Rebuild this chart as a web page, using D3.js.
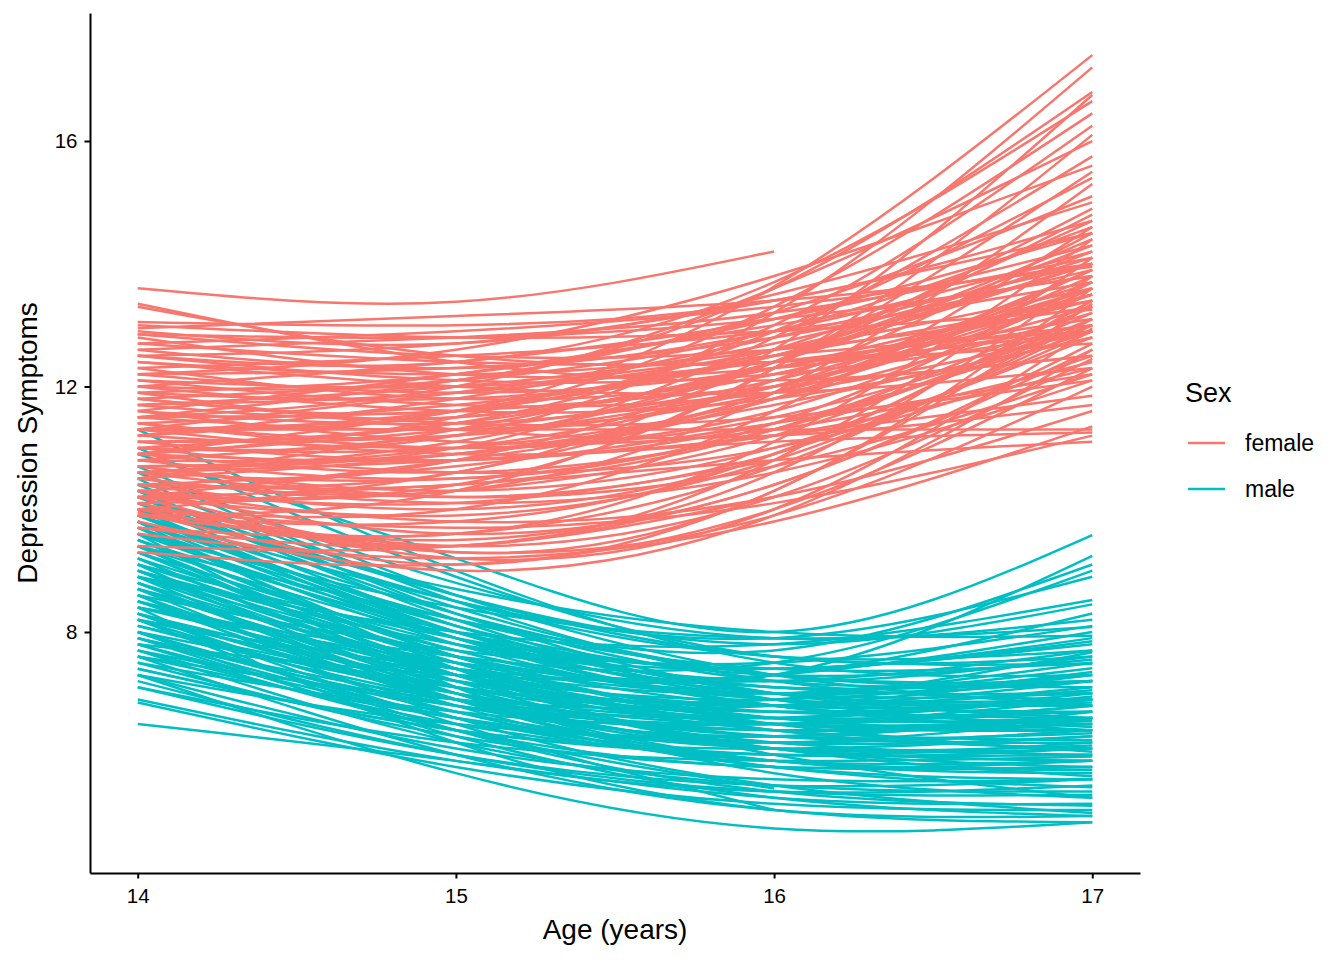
<!DOCTYPE html>
<html>
<head>
<meta charset="utf-8">
<script src="https://cdn.jsdelivr.net/npm/d3@7"></script>
<style>
  body { margin: 0; background: #fff; }
  text { font-family: "Liberation Sans", Arial, sans-serif; }
</style>
</head>
<body>
<div id="chart"></div>
<script>
var ages = [14, 15, 16, 17];

// Depression symptom trajectories, one row per person (values at ages 14-17)
var femaleLines = [
  [11.3, 11.6, 13.63, 17.4], [11.0, 11.2, 13.2, 17.2], [12.0, 12.1, 13.6, 16.8],
  [10.4, 10.6, 12.6, 16.75], [12.5, 12.4, 13.7, 16.65], [10.9, 11.5, 13.3, 16.45],
  [11.8, 11.6, 13.0, 16.25], [10.2, 10.4, 12.3, 16.1], [11.5, 12.0, 13.6, 16.0],
  [10.7, 11.0, 12.8, 15.75], [12.2, 12.6, 13.8, 15.6], [9.9, 10.3, 12.3, 15.5],
  [11.1, 11.4, 12.9, 15.4], [10.5, 10.3, 11.9, 15.3], [12.9, 12.7, 13.5, 15.0],
  [10.3, 10.8, 12.4, 14.9], [11.4, 11.2, 12.4, 14.8], [13.05, 13.0, 13.4, 14.7],
  [10.0, 10.0, 11.6, 14.6], [11.9, 12.2, 13.1, 14.5], [9.9, 9.6, 11.1, 14.4],
  [10.6, 11.1, 12.4, 14.3], [12.6, 12.3, 12.9, 14.2], [10.1, 9.4, 10.8, 14.1],
  [11.2, 11.8, 12.8, 14.0], [12.95, 13.15, 13.4, 13.95], [10.8, 10.9, 11.9, 13.9],
  [11.6, 12.2, 13.0, 13.8], [10.3, 9.3, 10.3, 13.6], [12.3, 11.8, 12.2, 13.7],
  [10.0, 10.6, 11.9, 13.6], [11.7, 11.5, 12.3, 13.5], [10.9, 11.6, 12.5, 13.4],
  [9.95, 9.1, 10.3, 13.35], [12.85, 12.5, 12.6, 13.3], [11.0, 11.0, 11.8, 13.2],
  [10.5, 11.3, 12.3, 13.1], [12.1, 12.0, 12.4, 13.0], [10.2, 9.2, 10.0, 12.95],
  [11.3, 11.9, 12.5, 12.9], [10.7, 10.3, 11.0, 12.8], [12.7, 12.4, 12.4, 12.7],
  [9.8, 9.0, 9.9, 12.6], [11.5, 11.6, 12.0, 12.5], [10.1, 9.4, 10.2, 12.45],
  [12.4, 12.0, 11.9, 12.3], [10.4, 10.7, 11.4, 12.2], [11.8, 11.4, 11.5, 12.1],
  [10.0, 9.3, 9.9, 12.0], [10.9, 10.8, 11.2, 11.85], [11.9, 11.3, 11.2, 11.7],
  [10.3, 9.8, 10.2, 11.6], [9.6, 9.2, 9.8, 11.35], [11.3, 11.3, 11.3, 11.3],
  [10.6, 10.8, 11.1, 11.25], [10.0, 9.7, 10.1, 11.2], [10.2, 10.4, 10.8, 11.1],
  [13.35, 12.4, 12.1, 12.5], [13.3, 12.5, 12.4, 12.9], [13.0, 12.8, 12.9, 13.25],
  [12.85, 12.8, 13.1, 13.8], [12.7, 12.9, 13.3, 14.0], [12.5, 12.7, 13.4, 14.5],
  [12.2, 11.9, 12.3, 13.4], [12.0, 12.4, 13.1, 14.3], [11.6, 11.4, 12.0, 13.3],
  [11.4, 11.7, 12.5, 14.0], [11.1, 10.8, 11.4, 12.9], [10.8, 11.2, 12.0, 13.5],
  [10.6, 10.5, 11.3, 13.0], [10.4, 10.0, 10.9, 13.4], [10.2, 10.8, 11.8, 13.9],
  [9.9, 9.5, 10.6, 13.8], [9.7, 9.6, 10.7, 13.1], [9.4, 9.4, 10.4, 12.6],
  [9.3, 9.1, 10.0, 12.3], [11.0, 10.6, 11.0, 12.5], [11.7, 12.0, 12.7, 14.1],
  [10.7, 10.2, 10.7, 12.2], [12.3, 12.5, 12.9, 13.7], [11.2, 11.0, 11.6, 13.6],
  [10.5, 10.9, 11.7, 12.8], [12.8, 12.2, 12.3, 13.0], [13.6, 13.38, 14.2, null],
  [10.3, 10.1, 10.8, null], [9.7, 9.4, 10.2, null],
  [11.5, 11.3, 11.9, 13.5], [10.9, 10.6, 11.3, 13.1], [11.3, 11.5, 12.2, 13.6],
  [10.6, 10.2, 10.9, 12.9], [11.8, 12.1, 12.9, 14.6], [12.1, 11.7, 11.9, 12.9],
  [10.4, 10.4, 11.3, 13.3], [11.0, 11.4, 12.4, 14.2], [12.4, 12.2, 12.6, 13.6],
  [10.8, 10.5, 11.4, 13.7], [11.6, 11.1, 11.3, 12.4], [10.1, 10.3, 11.2, 13.2],
  [11.9, 11.8, 12.5, 14.4], [12.6, 12.8, 13.2, 14.1], [10.5, 10.1, 10.6, 12.1],
  [11.2, 11.6, 12.6, 14.7], [11.4, 11.0, 11.5, 13.0], [10.7, 10.9, 11.8, 13.8],
  [12.2, 12.3, 12.8, 13.9], [10.9, 11.3, 12.1, 13.6], [11.7, 11.9, 12.6, 14.0],
  [10.3, 9.6, 10.4, 12.7], [9.9, 9.8, 10.9, 13.4], [11.1, 11.2, 12.0, 13.9],
  [12.0, 11.6, 11.8, 12.8], [10.6, 11.0, 12.1, 14.5], [11.5, 12.1, 13.2, 15.1],
  [10.2, 9.9, 10.8, 13.0], [12.5, 12.1, 12.2, 12.9], [11.3, 10.9, 11.2, 12.3]
];

var maleLines = [
  [10.9, 9.2, 8.0, 9.58], [9.0, 7.6, 7.3, 9.24], [9.4, 8.2, 7.7, 9.1],
  [8.4, 7.6, 7.5, 9.0], [9.9, 8.5, 7.9, 8.9], [8.9, 8.0, 7.8, 8.52],
  [10.2, 8.6, 7.8, 8.45], [8.2, 7.4, 7.3, 8.3], [9.6, 8.4, 7.9, 8.08],
  [7.8, 7.3, 7.3, 8.0], [10.0, 8.7, 8.0, 7.94], [9.1, 7.9, 7.4, 7.85],
  [8.0, 7.1, 6.9, 7.67], [9.7, 8.1, 7.3, 7.55], [10.4, 8.6, 7.6, 7.48],
  [8.7, 7.5, 7.0, 7.41], [7.6, 6.9, 6.8, 7.3], [9.3, 7.8, 7.1, 7.2],
  [8.3, 7.2, 6.8, 7.05], [9.9, 8.0, 7.1, 7.0], [8.1, 7.0, 6.6, 6.95],
  [7.1, 6.0, 5.5, 5.6], [9.5, 7.7, 6.9, 6.8], [8.5, 7.1, 6.6, 6.7],
  [7.9, 6.8, 6.4, 6.6], [9.0, 7.3, 6.6, 6.55], [10.1, 8.1, 6.9, 6.45],
  [8.6, 7.0, 6.3, 6.35], [7.4, 6.4, 6.1, 6.3], [9.2, 7.3, 6.4, 6.24],
  [8.0, 6.7, 6.1, 6.15], [9.7, 7.6, 6.5, 6.05], [7.1, 6.2, 5.9, 5.97],
  [8.8, 7.0, 6.1, 5.9], [8.3, 6.7, 5.9, 5.75], [9.4, 7.3, 6.1, 5.65],
  [7.3, 6.1, 5.6, 5.6], [8.9, 6.9, 5.8, 5.47], [7.7, 6.2, 5.5, 5.4],
  [9.8, 7.4, 6.0, 5.3], [8.2, 6.4, 5.4, 5.17], [6.85, 5.8, 5.2, 5.1],
  [8.6, 6.6, 5.5, 5.05], [7.3, 5.7, 4.8, 4.9], [6.5, 5.9, 5.3, 5.2],
  [11.3, 9.0, 7.5, 7.3], [11.0, 8.9, 7.6, 7.6], [10.6, 8.5, 7.2, 6.9],
  [10.5, 8.3, 7.0, 6.6], [9.6, 7.9, 7.0, 7.0], [9.2, 7.7, 6.9, 6.85],
  [8.8, 7.4, 6.8, 7.1], [8.4, 7.3, 6.9, 7.35], [9.9, 8.3, 7.3, 7.2],
  [7.5, 6.7, 6.5, 6.9], [8.1, 6.9, 6.4, 6.5], [9.5, 7.6, 6.6, 6.4],
  [8.7, 7.2, 6.5, 6.6], [7.9, 6.6, 6.0, 6.1], [9.0, 7.1, 6.2, 6.0],
  [9.8, 8.2, 7.4, 7.5], [10.3, 8.4, 7.3, 7.1], [8.5, 6.9, 6.2, 6.3],
  [7.7, 6.5, 6.0, 6.2], [9.3, 7.5, 6.7, 6.7], [8.9, 7.6, 7.0, 7.2],
  [7.8, 6.6, 6.2, 6.6], [10.0, 7.9, 6.8, 6.6], [8.2, 6.8, 6.3, 6.7],
  [9.1, 7.0, 5.9, 5.7], [7.2, 6.0, 5.4, 5.35], [8.0, 6.3, 5.3, 5.0],
  [9.6, 7.1, 5.7, 5.3], [8.4, 6.2, 5.1, 4.9], [7.6, 6.0, 5.1, 5.0],
  [9.4, 7.9, 7.2, 7.6], [8.6, 7.7, 7.4, 7.8], [10.1, 8.5, 7.6, 7.7],
  [9.0, 7.8, 7.5, 8.1], [10.6, 8.8, 7.9, 8.2], [6.9, 5.9, 5.4, 5.5],
  [8.3, 7.0, 6.5, 6.8], [9.7, 7.8, 6.8, 6.5], [8.7, 6.8, 5.8, 5.6],
  [7.4, 6.4, 6.0, 6.0], [7.9, 6.4, 5.45, null], [8.3, 6.5, 5.1, null],
  [9.1, 7.6, 6.8, 6.9], [8.5, 7.4, 7.0, 7.5], [9.8, 7.9, 6.8, 6.4],
  [7.6, 6.6, 6.2, 6.4], [8.8, 7.1, 6.3, 6.2], [10.3, 8.2, 7.0, 6.9],
  [8.1, 7.1, 6.7, 6.9], [9.4, 7.5, 6.4, 6.1], [7.9, 6.9, 6.6, 7.0],
  [9.0, 7.4, 6.6, 6.6], [8.3, 6.9, 6.1, 5.9], [9.6, 8.0, 7.1, 7.3],
  [10.7, 8.6, 7.3, 6.8], [8.7, 7.3, 6.7, 6.9], [7.5, 6.3, 5.8, 5.8],
  [9.2, 7.2, 6.1, 5.8], [8.0, 6.6, 5.9, 5.9], [9.9, 8.1, 7.0, 6.8],
  [8.4, 7.5, 7.2, 7.7], [7.3, 6.5, 6.3, 6.6], [9.3, 7.4, 6.5, 6.4],
  [10.2, 8.3, 7.2, 7.2], [8.9, 7.3, 6.5, 6.5], [7.8, 6.4, 5.8, 5.9],
  [8.6, 6.9, 6.1, 6.1], [9.5, 8.0, 7.4, 7.9], [8.2, 7.2, 6.8, 7.2],
  [10.0, 8.0, 6.9, 6.7], [8.8, 6.9, 5.9, 5.8], [7.7, 6.8, 6.5, 6.8]
];

var sexLabels = ["female", "male"];
var sexColors = ["#F8766D", "#00BFC4"];
var xTicks = [14, 15, 16, 17];
var yTicks = [8, 12, 16];

// Canvas and panel
var svgWidth = 1344;
var svgHeight = 960;
var panel = { left: 90, right: 1140, top: 13, bottom: 873 };

var svg = d3.select("#chart")
  .append("svg")
  .attr("width", svgWidth)
  .attr("height", svgHeight);

// Scales (ggplot-style 5% expansion)
var xScale = d3.scaleLinear()
  .domain([13.85, 17.15])
  .range([panel.left, panel.right]);
var yScale = d3.scaleLinear()
  .domain([4.073, 18.086])
  .range([panel.bottom, panel.top]);

var line = d3.line()
  .x(d => xScale(d[0]))
  .y(d => yScale(d[1]))
  .curve(d3.curveNatural);

function toPoints(row) {
  return row.map((v, i) => [ages[i], v]).filter(p => p[1] != null);
}

// Male trajectories first, female on top
var groups = [
  { rows: maleLines, color: sexColors[1] },
  { rows: femaleLines, color: sexColors[0] }
];

groups.forEach(function (g) {
  svg.append("g")
    .selectAll("path")
    .data(g.rows)
    .enter()
    .append("path")
    .attr("d", d => line(toPoints(d)))
    .attr("fill", "none")
    .attr("stroke", g.color)
    .attr("stroke-width", 2.5);
});

// Axes
var bottomAxis = d3.axisBottom(xScale)
  .tickValues(xTicks)
  .tickFormat(d3.format("d"))
  .tickSize(5.5)
  .tickSizeOuter(0)
  .tickPadding(10);
var leftAxis = d3.axisLeft(yScale)
  .tickValues(yTicks)
  .tickFormat(d3.format("d"))
  .tickSize(5.5)
  .tickSizeOuter(0)
  .tickPadding(7);

var xAxisG = svg.append("g")
  .attr("transform", `translate(0, ${panel.bottom})`)
  .call(bottomAxis);
var yAxisG = svg.append("g")
  .attr("transform", `translate(${panel.left}, 0)`)
  .call(leftAxis);

[xAxisG, yAxisG].forEach(function (a) {
  a.select(".domain").attr("stroke", "#000").attr("stroke-width", 2);
  a.selectAll(".tick line").attr("stroke", "#000").attr("stroke-width", 2);
  a.selectAll(".tick text")
    .attr("fill", "#000")
    .style("font-size", "20.5px")
    .style("font-family", "'Liberation Sans', Arial, sans-serif");
});

// Axis titles
svg.append("text")
  .attr("x", (panel.left + panel.right) / 2)
  .attr("y", 939)
  .attr("text-anchor", "middle")
  .style("font-size", "28px")
  .text("Age (years)");

svg.append("text")
  .attr("transform", `translate(37, ${(panel.top + panel.bottom) / 2}) rotate(-90)`)
  .attr("text-anchor", "middle")
  .style("font-size", "28px")
  .text("Depression Symptoms");

// Legend
var legend = svg.append("g")
  .attr("transform", "translate(1185, 0)");

legend.append("text")
  .attr("x", 0)
  .attr("y", 402)
  .style("font-size", "27px")
  .text("Sex");

sexLabels.forEach(function (label, i) {
  var cy = 443 + i * 46;
  legend.append("line")
    .attr("x1", 3)
    .attr("x2", 40)
    .attr("y1", cy)
    .attr("y2", cy)
    .attr("stroke", sexColors[i])
    .attr("stroke-width", 2.5);
  legend.append("text")
    .attr("x", 60)
    .attr("y", cy)
    .attr("dy", "0.35em")
    .style("font-size", "23px")
    .text(label);
});
</script>
</body>
</html>
